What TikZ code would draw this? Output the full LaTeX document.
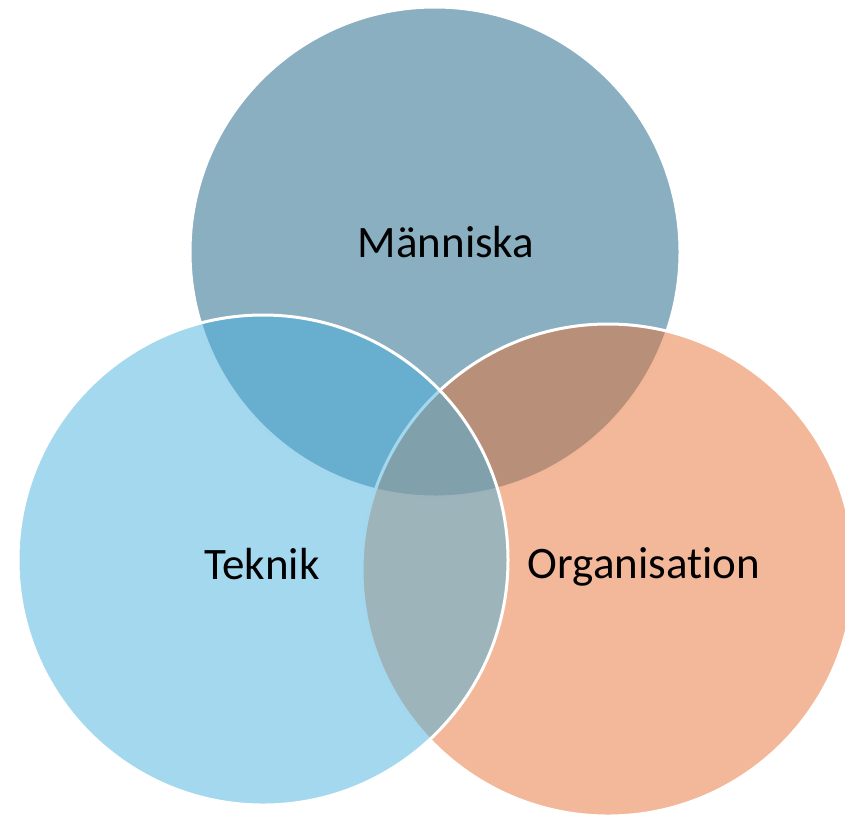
\documentclass[tikz,border=0pt]{standalone}
\usepackage{fontspec}
\setmainfont[Ligatures=NoCommon]{Carlito}
\definecolor{humanfill}{RGB}{21,95,129}
\definecolor{techfill}{RGB}{73,177,223}
\definecolor{orgfill}{RGB}{231,113,51}
\begin{document}
\begin{tikzpicture}[x=1pt,y=-1pt,
  venn/.style={fill opacity=0.5,draw=white,draw opacity=1,line width=3pt},
  label/.style={anchor=base,inner sep=0pt,font=\fontsize{45}{54}\selectfont,text=black}]
  \useasboundingbox (0,0) rectangle (845,815);
  % three overlapping sets, drawn top, right, left
  \path[venn,fill=humanfill] (435,252) circle[radius=245];
  \path[venn,fill=orgfill] (608,570) circle[radius=246];
  \path[venn,fill=techfill] (263,560) circle[radius=245];
  % set labels
  \node[label] (manniska) at (446,257) {Människa};
  \node[label] (teknik) at (262,579) {Teknik};
  \node[label] (organisation) at (644,578) {Organisation};
\end{tikzpicture}
\end{document}
